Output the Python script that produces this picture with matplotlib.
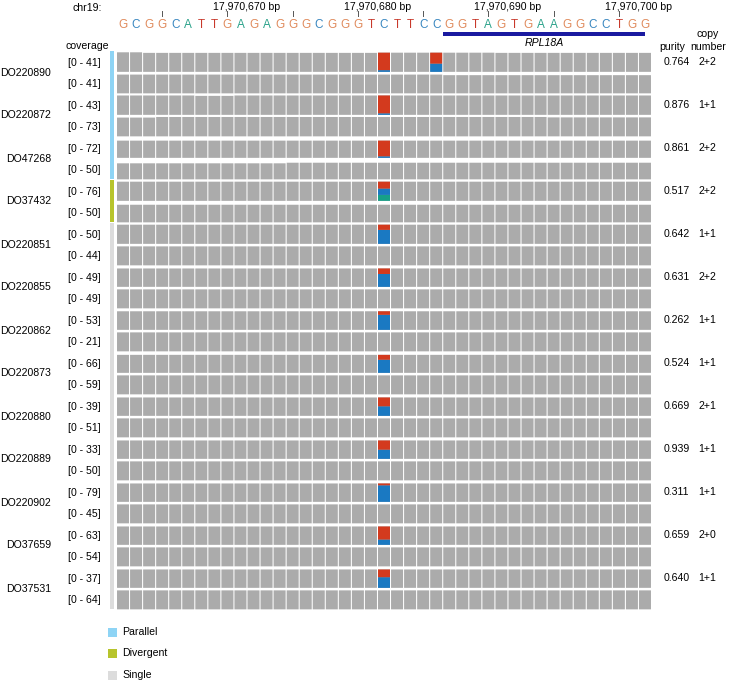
import matplotlib
matplotlib.use("Agg")
import matplotlib.pyplot as plt
from matplotlib.patches import Rectangle
from matplotlib.transforms import blended_transform_factory

plt.rcParams['font.family'] = ['Liberation Sans', 'DejaVu Sans']

# ---------------- data ----------------
chrom = "chr19"
start_pos = 17970662
ref_seq = "GCGGCATTGAGAGGGCGGGTCTTCCGGTAGTGAAGGCCTGG"
tick_positions = [17970665, 17970670, 17970675, 17970680, 17970685,
                  17970690, 17970695, 17970700]
labeled_ticks = [17970670, 17970680, 17970690, 17970700]
gene_name = "RPL18A"
gene_start = 17970687
gene_end = 17970702

samples = ["DO220890", "DO220872", "DO47268", "DO37432", "DO220851", "DO220855",
           "DO220862", "DO220873", "DO220880", "DO220889", "DO220902", "DO37659",
           "DO37531"]
groups = ["Parallel", "Parallel", "Parallel", "Divergent", "Single", "Single",
          "Single", "Single", "Single", "Single", "Single", "Single", "Single"]
tumor_max = [41, 43, 72, 76, 50, 49, 53, 66, 39, 33, 79, 63, 37]
normal_max = [41, 73, 50, 50, 44, 49, 21, 59, 51, 50, 45, 54, 64]
purity = [0.764, 0.876, 0.861, 0.517, 0.642, 0.631, 0.262, 0.524, 0.669, 0.939,
          0.311, 0.659, 0.640]
copy_number = ["2+2", "1+1", "2+2", "2+2", "1+1", "2+2", "1+1", "1+1", "2+1",
               "1+1", "1+1", "2+0", "1+1"]

# variant allele fractions at the mutated position (tumor tracks)
variant_pos = 17970682
frac_T = [0.91, 0.92, 0.91, 0.36, 0.27, 0.30, 0.19, 0.27, 0.48, 0.50, 0.10, 0.71, 0.42]
frac_A = [0.00, 0.00, 0.00, 0.31, 0.00, 0.00, 0.00, 0.00, 0.00, 0.00, 0.00, 0.00, 0.00]
# extra mismatch in the first tumor track
extra_pos = 17970686
extra_frac_T = 0.57

# relative coverage height per column (percent of track max), tracks in display order
rel_depth = [
    [100, 100, 97, 97, 97, 97, 97, 97, 97, 97, 97, 97, 97, 97, 97, 97, 97, 97, 97, 97, 98, 98, 98, 98, 98, 98, 98, 98, 98, 97, 97, 97, 97, 97, 97, 97, 97, 97, 97, 97, 97],
    [96, 96, 96, 96, 96, 96, 96, 96, 96, 96, 96, 96, 96, 96, 96, 96, 96, 96, 96, 96, 96, 96, 96, 96, 96, 93, 93, 93, 93, 93, 93, 93, 93, 93, 93, 93, 93, 93, 93, 93, 93],
    [99, 99, 99, 99, 99, 99, 97, 97, 97, 99, 99, 99, 99, 99, 99, 99, 99, 99, 99, 99, 99, 99, 99, 99, 99, 99, 99, 99, 99, 99, 99, 99, 99, 99, 99, 99, 99, 99, 99, 99, 99],
    [96, 96, 96, 99, 99, 99, 99, 99, 99, 99, 99, 99, 99, 99, 99, 99, 99, 99, 99, 99, 99, 99, 99, 99, 99, 99, 99, 99, 99, 99, 99, 99, 99, 97, 97, 97, 97, 97, 97, 97, 97],
    [88, 88, 88, 88, 88, 88, 88, 88, 88, 88, 88, 88, 88, 88, 88, 88, 88, 88, 88, 88, 88, 88, 88, 88, 88, 88, 88, 88, 88, 88, 88, 88, 88, 88, 88, 88, 88, 88, 88, 88, 88],
    [82, 82, 82, 82, 82, 82, 82, 82, 82, 82, 82, 82, 82, 85, 85, 85, 85, 85, 85, 85, 85, 85, 85, 85, 85, 85, 85, 85, 85, 85, 85, 85, 85, 85, 85, 85, 85, 85, 85, 85, 85],
    [98, 98, 98, 98, 98, 98, 98, 98, 98, 98, 98, 98, 98, 98, 98, 98, 98, 98, 98, 98, 98, 98, 98, 98, 98, 98, 98, 98, 98, 98, 98, 98, 98, 98, 98, 98, 98, 98, 98, 98, 98],
    [90, 90, 90, 90, 90, 90, 90, 90, 90, 90, 90, 90, 90, 90, 90, 90, 90, 90, 90, 90, 90, 90, 90, 90, 90, 90, 90, 90, 90, 90, 90, 90, 90, 90, 90, 90, 90, 90, 90, 90, 90],
    [98, 98, 98, 98, 98, 98, 98, 98, 98, 98, 98, 98, 98, 98, 98, 98, 98, 98, 98, 98, 98, 98, 98, 98, 98, 98, 98, 98, 98, 98, 98, 98, 98, 98, 98, 98, 98, 98, 98, 98, 98],
    [97, 97, 97, 97, 97, 97, 97, 97, 97, 97, 97, 97, 97, 97, 97, 97, 97, 97, 97, 97, 97, 97, 97, 97, 97, 97, 97, 97, 97, 97, 97, 97, 97, 97, 97, 97, 97, 97, 97, 97, 97],
    [94, 94, 94, 94, 94, 94, 94, 94, 94, 94, 94, 94, 94, 94, 94, 94, 94, 94, 94, 94, 94, 94, 94, 94, 94, 94, 94, 94, 94, 94, 94, 94, 94, 94, 94, 94, 94, 94, 94, 94, 94],
    [97, 97, 97, 97, 97, 97, 97, 97, 97, 97, 97, 97, 97, 97, 97, 97, 97, 97, 97, 97, 97, 97, 97, 97, 97, 97, 97, 97, 97, 97, 97, 97, 97, 97, 97, 97, 97, 97, 97, 97, 97],
    [95, 95, 95, 95, 95, 95, 95, 95, 95, 95, 95, 95, 95, 95, 95, 95, 95, 95, 95, 95, 95, 95, 95, 95, 95, 95, 95, 95, 95, 95, 95, 95, 95, 95, 95, 95, 95, 95, 95, 95, 95],
    [97, 97, 97, 97, 97, 97, 97, 97, 97, 97, 97, 97, 97, 97, 97, 97, 97, 97, 97, 97, 97, 97, 97, 97, 97, 97, 97, 97, 97, 97, 97, 97, 97, 97, 97, 97, 97, 97, 97, 97, 97],
    [92, 92, 92, 92, 92, 92, 92, 92, 92, 92, 92, 92, 92, 92, 92, 92, 92, 92, 92, 92, 92, 92, 92, 92, 92, 92, 92, 92, 92, 92, 92, 92, 92, 92, 92, 92, 92, 92, 92, 92, 92],
    [97, 97, 97, 97, 97, 97, 97, 97, 97, 97, 97, 97, 97, 97, 97, 97, 97, 97, 97, 97, 97, 97, 97, 97, 97, 97, 97, 97, 97, 97, 97, 97, 97, 97, 97, 97, 97, 97, 97, 97, 97],
    [94, 94, 94, 94, 94, 94, 94, 94, 94, 94, 94, 94, 94, 94, 94, 94, 94, 94, 94, 94, 94, 94, 94, 94, 94, 94, 94, 94, 94, 94, 94, 94, 94, 94, 94, 94, 94, 94, 94, 94, 94],
    [97, 97, 97, 97, 97, 97, 97, 97, 97, 97, 97, 97, 97, 97, 97, 97, 97, 97, 97, 97, 97, 97, 97, 97, 97, 97, 97, 97, 97, 97, 97, 97, 97, 97, 97, 97, 97, 97, 97, 97, 97],
    [94, 94, 94, 94, 94, 94, 94, 94, 94, 94, 94, 94, 94, 94, 94, 94, 94, 94, 94, 94, 94, 94, 94, 94, 94, 94, 94, 94, 94, 94, 94, 94, 94, 94, 94, 94, 94, 94, 94, 94, 94],
    [97, 97, 97, 97, 97, 97, 97, 97, 97, 97, 97, 97, 97, 97, 97, 97, 97, 97, 97, 97, 97, 97, 97, 97, 97, 97, 97, 97, 97, 97, 97, 97, 97, 97, 97, 97, 97, 97, 97, 97, 97],
    [94, 94, 94, 94, 94, 94, 94, 94, 94, 94, 94, 94, 94, 94, 94, 94, 94, 94, 94, 94, 94, 94, 94, 94, 94, 94, 94, 94, 94, 94, 94, 94, 94, 94, 94, 94, 94, 94, 94, 94, 94],
    [97, 97, 97, 97, 97, 97, 97, 97, 97, 97, 97, 97, 97, 97, 97, 97, 97, 97, 97, 97, 97, 97, 97, 97, 97, 97, 97, 97, 97, 97, 97, 97, 97, 97, 97, 97, 97, 97, 97, 97, 97],
    [94, 94, 94, 94, 94, 94, 94, 94, 94, 94, 94, 94, 94, 94, 94, 94, 94, 94, 94, 94, 94, 94, 94, 94, 94, 94, 94, 94, 94, 94, 94, 94, 94, 94, 94, 94, 94, 94, 94, 94, 94],
    [97, 97, 97, 97, 97, 97, 97, 97, 97, 97, 97, 97, 97, 97, 97, 97, 97, 97, 97, 97, 97, 97, 97, 97, 97, 97, 97, 97, 97, 97, 97, 97, 97, 97, 97, 97, 97, 97, 97, 97, 97],
    [94, 94, 94, 94, 94, 94, 94, 94, 94, 94, 94, 94, 94, 94, 94, 94, 94, 94, 94, 94, 94, 94, 94, 94, 94, 94, 94, 94, 94, 94, 94, 94, 94, 94, 94, 94, 94, 94, 94, 94, 94],
    [97, 97, 97, 97, 97, 97, 97, 97, 97, 97, 97, 97, 97, 97, 97, 97, 97, 97, 97, 97, 97, 97, 97, 97, 97, 97, 97, 97, 97, 97, 97, 97, 97, 97, 97, 97, 97, 97, 97, 97, 97],
]

# ---------------- styles ----------------
base_colors = {"A": "#2AA28A", "C": "#3A87C0", "G": "#E08B5D", "T": "#C8392B"}
allele_colors = {"A": "#16A088", "C": "#1A79C2", "T": "#D33A1E"}
group_colors = {"Parallel": "#8ED4F5", "Divergent": "#B7C42C", "Single": "#DCDCDC"}
bar_gray = "#ABABAB"
fs = 7.6

W, H = 733, 680
fig = plt.figure(figsize=(W / 100, H / 100), dpi=100)
# overlay in pixel space (for text placement)
ax0 = fig.add_axes([0, 0, 1, 1])
ax0.set_xlim(0, W)
ax0.set_ylim(H, 0)
ax0.axis("off")

x_left, x_right, y_top, y_bot = 116.5, 651.5, 51, 610
ax = fig.add_axes([x_left / W, 1 - y_bot / H, (x_right - x_left) / W, (y_bot - y_top) / H])
n_bases = len(ref_seq)
n_tracks = 2 * len(samples)
ax.set_xlim(start_pos - 0.5, start_pos + n_bases - 0.5)
ax.set_ylim(n_tracks, 0)
ax.axis("off")

positions = [start_pos + i for i in range(n_bases)]
bar_w = 0.92
bar_max = 0.91
for t in range(n_tracks):
    heights = [r / 100 * bar_max for r in rel_depth[t]]
    bottom = t + 0.97
    ax.bar(positions, [-h for h in heights], bottom=bottom, width=bar_w,
           color=bar_gray, linewidth=0, snap=False)
    if t % 2 == 0:
        s = t // 2
        idx = variant_pos - start_pos
        h = heights[idx]
        fa = frac_A[s]
        ft = frac_T[s]
        fc = 1 - fa - ft
        y = bottom
        for allele, f in (("A", fa), ("C", fc), ("T", ft)):
            if f > 0:
                ax.bar(variant_pos, -h * f, bottom=y, width=bar_w,
                       color=allele_colors[allele], linewidth=0, snap=False)
                y -= h * f
        if s == 0:
            idx2 = extra_pos - start_pos
            h2 = heights[idx2]
            ax.bar(extra_pos, -h2 * (1 - extra_frac_T), bottom=bottom, width=bar_w,
                   color=allele_colors["C"], linewidth=0, snap=False)
            ax.bar(extra_pos, -h2 * extra_frac_T, bottom=bottom - h2 * (1 - extra_frac_T),
                   width=bar_w, color=allele_colors["T"], linewidth=0, snap=False)

# transforms: x pixel / y track ; x genomic / y pixel
tr_px_track = blended_transform_factory(ax0.transData, ax.transData)
tr_gen_px = blended_transform_factory(ax.transData, ax0.transData)

# group bars on the left
i = 0
while i < len(samples):
    j = i
    while j + 1 < len(samples) and groups[j + 1] == groups[i]:
        j += 1
    ax0.add_patch(Rectangle((110, 2 * i + 0.02), 3.5, 2 * (j - i + 1) - 0.06,
                            transform=tr_px_track, color=group_colors[groups[i]],
                            linewidth=0))
    i = j + 1

# left / right labels
for s, name in enumerate(samples):
    ax0.text(51, 2 * s + 1, name, transform=tr_px_track, ha="right", va="center",
             fontsize=fs)
    for k, m in enumerate((tumor_max[s], normal_max[s])):
        ax0.text(101, 2 * s + k + 0.55, f"[0 - {m}]", transform=tr_px_track,
                 ha="right", va="center", fontsize=fs)
    ax0.text(664, 2 * s + 0.5, f"{purity[s]:.3f}", transform=tr_px_track,
             ha="left", va="center", fontsize=fs)
    ax0.text(707, 2 * s + 0.5, copy_number[s], transform=tr_px_track,
             ha="center", va="center", fontsize=fs)

ax0.text(87, 46, "coverage", ha="center", va="center", fontsize=fs)
ax0.text(672, 47, "purity", ha="center", va="center", fontsize=fs)
ax0.text(708, 34, "copy", ha="center", va="center", fontsize=fs)
ax0.text(708, 47, "number", ha="center", va="center", fontsize=fs)
ax0.text(87, 8, f"{chrom}:", ha="center", va="center", fontsize=fs)

# ruler
for p in tick_positions:
    ax0.plot([p, p], [11, 16], transform=tr_gen_px, color="#555555", linewidth=0.7)
for p in labeled_ticks:
    ax0.text(p - 1.07, 6.5, f"{p:,} bp", transform=tr_gen_px, ha="left", va="center",
             fontsize=fs)
for i, b in enumerate(ref_seq):
    ax0.text(start_pos + i, 25, b, transform=tr_gen_px, ha="center", va="center",
             fontsize=8.5, color=base_colors[b])

# gene
ax0.add_patch(Rectangle((gene_start - 0.5, 32), gene_end - gene_start + 0.5, 4,
                        transform=tr_gen_px, color="#1A1AA0", linewidth=0))
ax0.text((gene_start + gene_end) / 2 - 0.25, 43, gene_name, transform=tr_gen_px,
         ha="center", va="center", fontsize=fs, style="italic")

# legend
for k, g in enumerate(["Parallel", "Divergent", "Single"]):
    yc = 632 + k * 21.5
    ax0.add_patch(Rectangle((108, yc - 4.5), 9, 9, color=group_colors[g], linewidth=0))
    ax0.text(122, yc, g, ha="left", va="center", fontsize=fs)

fig.savefig("out.png", dpi=100)
